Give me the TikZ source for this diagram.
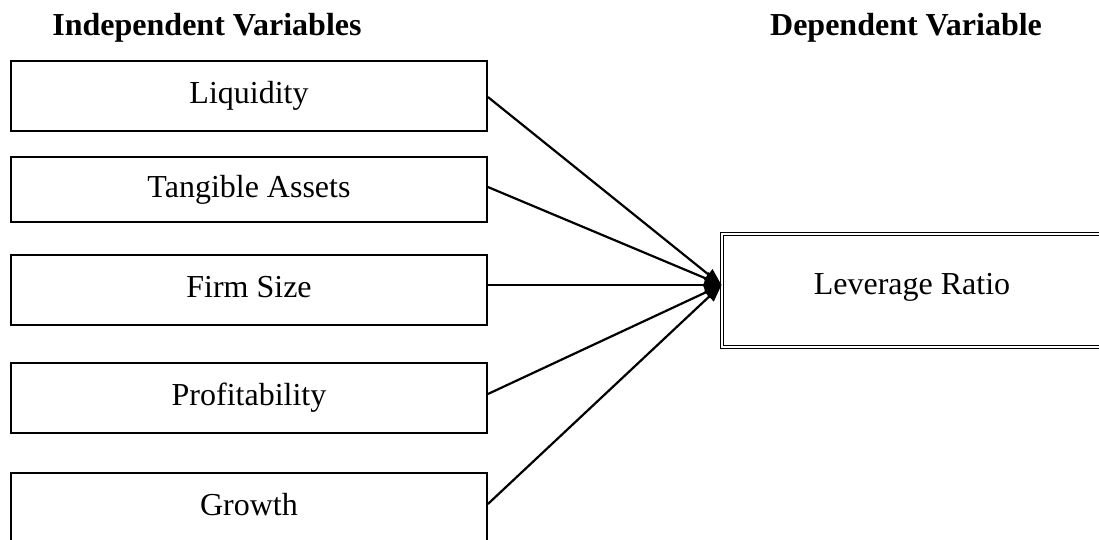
\documentclass[tikz,border=0pt]{standalone}
\usepackage{fontspec}
\setmainfont{Liberation Serif}
\usetikzlibrary{arrows.meta}
\begin{document}
\begin{tikzpicture}[x=1pt,y=-1pt,
  every node/.style={font=\fontsize{32}{38}\selectfont},
  title/.style={font=\fontsize{32}{38}\selectfont\bfseries, anchor=base, inner sep=0pt},
  varbox/.style={draw, line width=1.8pt, minimum width=476pt, minimum height=70pt,
    inner sep=0pt, text height=22pt, text depth=7pt},
  levbox/.style={draw, line width=1pt, double, double distance=1.4pt,
    minimum width=380pt, minimum height=113pt, inner sep=0pt,
    text height=22pt, text depth=15pt},
  conn/.style={line width=2.2pt, -{Triangle[length=17pt,width=13pt]}}]
\useasboundingbox (0,0) rectangle (1099,539);
\clip (0,0) rectangle (1099,539);
\fill[white] (0,0) rectangle (1099,539);

\node[title] (t1) at (207,35) {Independent Variables};
\node[title] (t2) at (906,35) {Dependent Variable};

\node[varbox] (b1) at (249,96) {Liquidity};
\node[varbox, minimum height=65pt] (b2) at (249,189.5) {Tangible Assets};
\node[varbox] (b3) at (249,290) {Firm Size};
\node[varbox] (b4) at (249,398) {Profitability};
\node[varbox] (b5) at (249,508) {Growth};

\node[levbox] (lev) at (912,290.5) {Leverage Ratio};
\coordinate (tip) at ([yshift=5.5pt]lev.west);

\draw[conn] ([yshift=-1pt]b1.east) -- (tip);
\draw[conn] ([yshift=2.5pt]b2.east) -- (tip);
\draw[conn] ([yshift=5pt]b3.east) -- (tip);
\draw[conn] ([yshift=4pt]b4.east) -- (tip);
\draw[conn] ([yshift=4pt]b5.east) -- (tip);
\end{tikzpicture}
\end{document}
